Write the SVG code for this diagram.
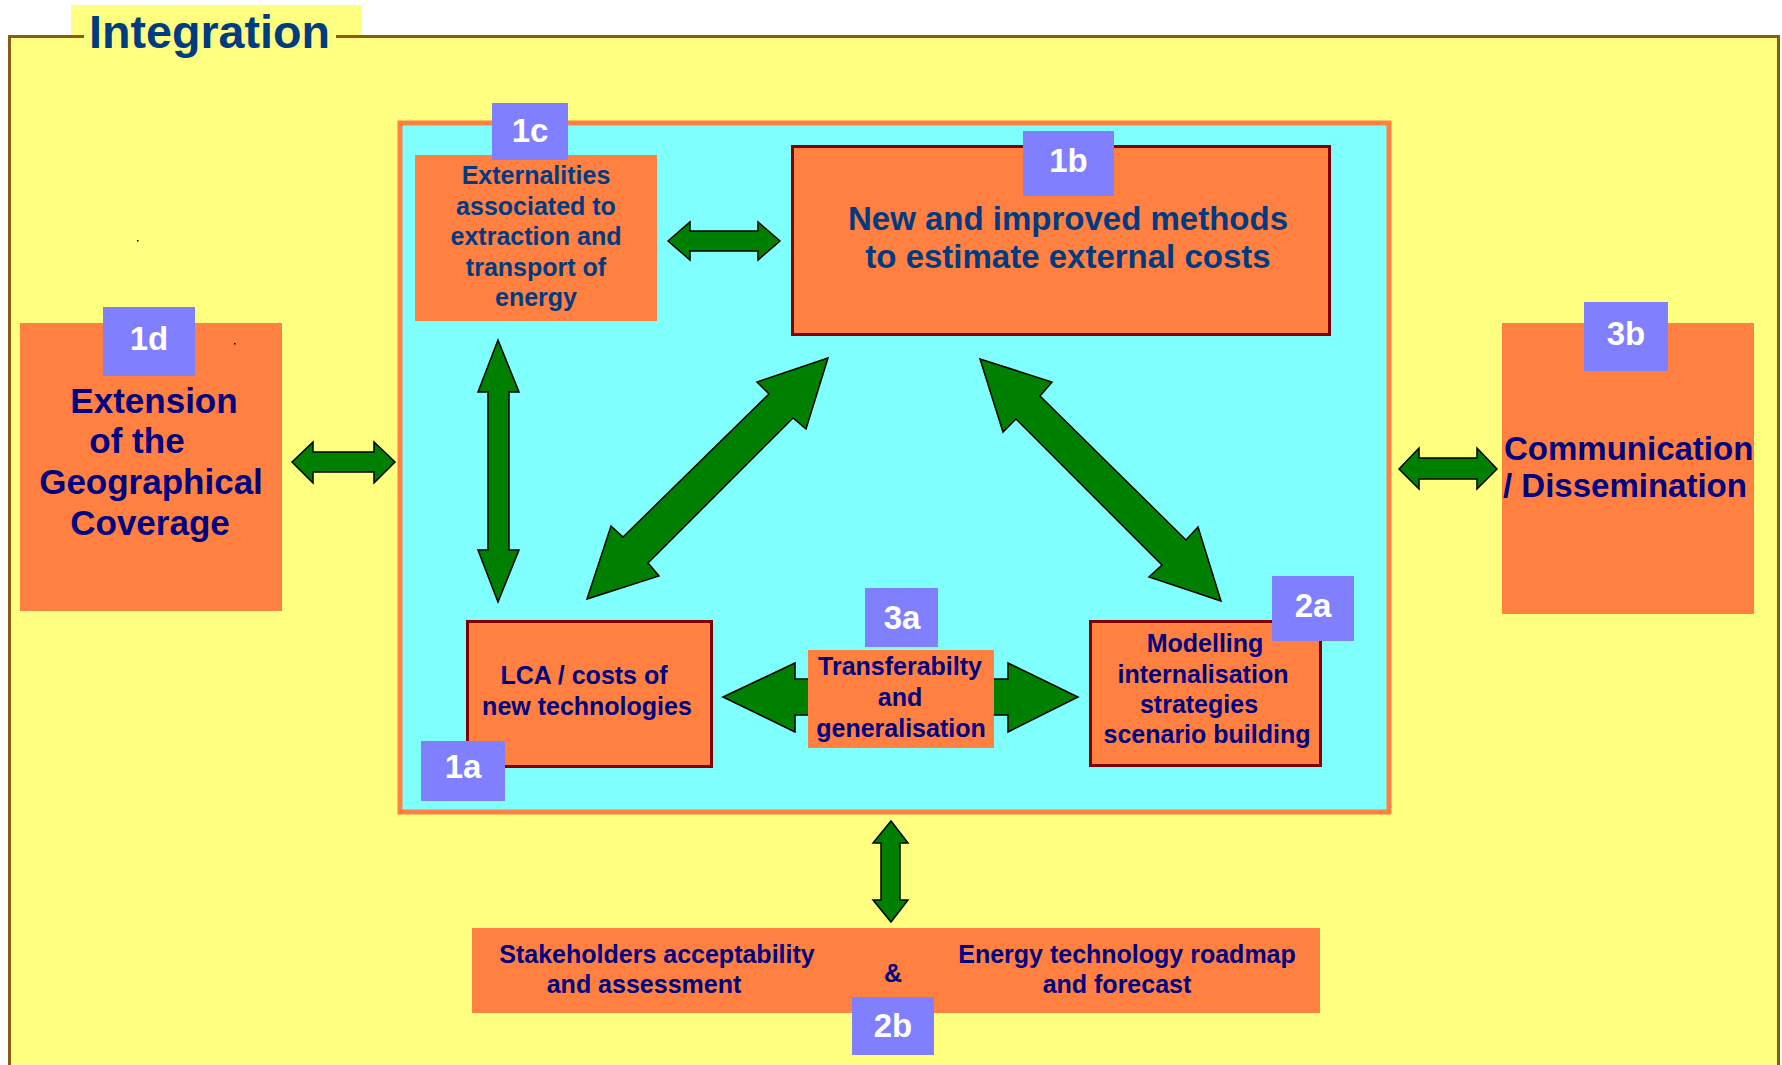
<svg xmlns="http://www.w3.org/2000/svg" width="1782" height="1065" viewBox="0 0 1782 1065">
<style>
.box{fill:#FF8040}
.bord{fill:#FF8040;stroke:#800000;stroke-width:3}
.lbl{fill:#8080FF}
.lt{font-family:"Liberation Sans",Arial,sans-serif;font-weight:bold;font-size:33px;fill:#FFFFFF;text-anchor:middle}
.t1{font-family:"Liberation Sans",Arial,sans-serif;font-weight:bold;font-size:25px;fill:#003A80;text-anchor:middle}
.t1b{font-family:"Liberation Sans",Arial,sans-serif;font-weight:bold;font-size:33px;fill:#003A80;text-anchor:middle}
.t2{font-family:"Liberation Sans",Arial,sans-serif;font-weight:bold;font-size:25px;fill:#000080;text-anchor:middle}
.big{font-family:"Liberation Sans",Arial,sans-serif;font-weight:bold;font-size:35px;fill:#000080;text-anchor:middle}
.com{font-family:"Liberation Sans",Arial,sans-serif;font-weight:bold;font-size:33px;fill:#000080;text-anchor:start}
.arr{fill:#008000;stroke:#000000;stroke-width:1.5;stroke-linejoin:miter}
</style>
<rect x="0" y="0" width="1782" height="1065" fill="#FFFFFF"/>
<g id="frame">
<rect x="71" y="5" width="291" height="42" fill="#FFFF80"/>
<rect x="9.5" y="36.5" width="1769" height="1100" fill="#FFFF80" stroke="#8B5A14" stroke-width="3"/>
<rect x="84" y="30" width="252" height="14" fill="#FFFF80"/>
<text x="89" y="48" font-family="'Liberation Sans',Arial,sans-serif" font-weight="bold" font-size="46" fill="#003C80" textLength="241" lengthAdjust="spacingAndGlyphs">Integration</text>
<rect x="137" y="240" width="1.5" height="1.5" fill="#000000"/>
</g>
<g id="core">
<rect x="400" y="123" width="989" height="689" fill="#80FFFF" stroke="#FF8040" stroke-width="5"/>
</g>
<g id="connectors">
<polygon class="arr" points="668,241 690,222 690,231 758,231 758,222 780,241 758,260 758,251 690,251 690,260"/>
<polygon class="arr" points="292,462 313,442 313,452 374,452 374,442 395,462 374,483 374,472 313,472 313,483"/>
<polygon class="arr" points="1399,469 1419,448 1419,458 1477,458 1477,448 1497,469 1477,489 1477,479 1419,479 1419,489"/>
<polygon class="arr" points="498,340 519,392 509,392 509,550 519,550 498,602 478,550 488,550 488,392 478,392"/>
<polygon class="arr" points="891,821 908,843 900,843 900,900 908,900 891,922 873,900 881,900 881,843 873,843"/>
<polygon class="arr" points="723,697 795,663 795,679 1008,679 1008,663 1078,697 1008,732 1008,715 795,715 795,732"/>
<polygon class="arr" points="828,358 806,429 793,418 648,563 659,576 587,599 611,526 623,537 769,394 757,382"/>
<polygon class="arr" points="980,359 1052,382 1040,396 1186,540 1198,527 1221,601 1149,577 1162,565 1016,419 1003,432"/>
</g>
<g id="node-1c">
<rect class="box" x="415" y="155" width="242" height="166"/>
<text class="t1" x="536" y="184">Externalities</text>
<text class="t1" x="536" y="215">associated to</text>
<text class="t1" x="536" y="245">extraction and</text>
<text class="t1" x="536" y="276">transport of</text>
<text class="t1" x="536" y="306">energy</text>
<rect class="lbl" x="492" y="103" width="76" height="57"/>
<text class="lt" x="530" y="142">1c</text>
</g>
<g id="node-1b">
<rect class="bord" x="792.5" y="146.5" width="537" height="188"/>
<text class="t1b" x="1068" y="230">New and improved methods</text>
<text class="t1b" x="1068" y="268">to estimate external costs</text>
<rect class="lbl" x="1023" y="131" width="91" height="65"/>
<text class="lt" x="1068.5" y="172">1b</text>
</g>
<g id="node-1d">
<rect class="box" x="20" y="323" width="262" height="288"/>
<rect x="234" y="343" width="1.5" height="1.5" fill="#000000"/>
<text class="big" x="154" y="413">Extension</text>
<text class="big" x="137" y="453">of the</text>
<text class="big" x="151" y="494">Geographical</text>
<text class="big" x="150" y="535">Coverage</text>
<rect class="lbl" x="103" y="307" width="92" height="69"/>
<text class="lt" x="149" y="350">1d</text>
</g>
<g id="node-3b">
<rect class="box" x="1502" y="323" width="252" height="291"/>
<text class="com" x="1504" y="460">Communication</text>
<text class="com" x="1503" y="497">/ Dissemination</text>
<rect class="lbl" x="1584" y="302" width="84" height="69"/>
<text class="lt" x="1626" y="345">3b</text>
</g>
<g id="node-1a">
<rect class="bord" x="467.5" y="621.5" width="244" height="145"/>
<text class="t2" x="584" y="684">LCA / costs of</text>
<text class="t2" x="587" y="715">new technologies</text>
<rect class="lbl" x="421" y="741" width="84" height="60"/>
<text class="lt" x="463" y="778">1a</text>
</g>
<g id="node-3a">
<rect class="box" x="808" y="650" width="186" height="98"/>
<text class="t2" x="900" y="675">Transferabilty</text>
<text class="t2" x="900" y="706">and</text>
<text class="t2" x="901" y="737">generalisation</text>
<rect class="lbl" x="865" y="588" width="73" height="59"/>
<text class="lt" x="902" y="629">3a</text>
</g>
<g id="node-2a">
<rect class="bord" x="1090.5" y="621.5" width="230" height="144"/>
<text class="t2" x="1205" y="652">Modelling</text>
<text class="t2" x="1203" y="683">internalisation</text>
<text class="t2" x="1199" y="713">strategies</text>
<text class="t2" x="1207" y="743">scenario building</text>
<rect class="lbl" x="1272" y="576" width="82" height="65"/>
<text class="lt" x="1313" y="617">2a</text>
</g>
<g id="node-2b">
<rect class="box" x="472" y="928" width="848" height="85"/>
<text class="t2" x="657" y="963">Stakeholders acceptability</text>
<text class="t2" x="644" y="993">and assessment</text>
<text class="t2" x="893" y="982">&amp;</text>
<text class="t2" x="1127" y="963">Energy technology roadmap</text>
<text class="t2" x="1117" y="993">and forecast</text>
<rect class="lbl" x="852" y="997" width="82" height="58"/>
<text class="lt" x="893" y="1037">2b</text>
</g>
</svg>
